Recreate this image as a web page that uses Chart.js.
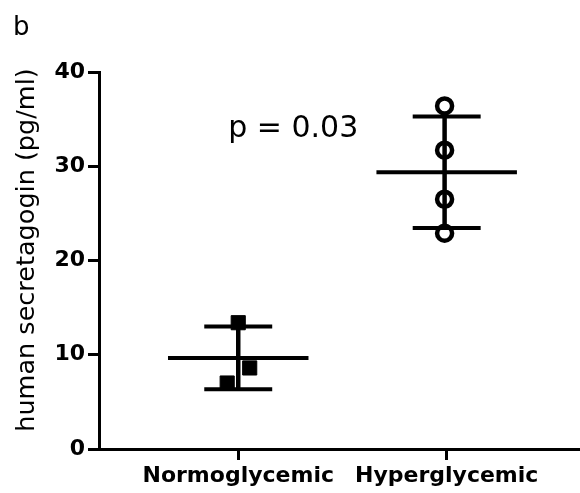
<!DOCTYPE html>
<html><head><meta charset="utf-8">
<script src="https://cdn.jsdelivr.net/npm/chart.js@4/dist/chart.umd.min.js"></script>
<style>html,body{margin:0;padding:0;background:#fff;overflow:hidden;}</style>
</head><body>
<canvas id="c" width="580" height="493"></canvas>
<script>
const categories = ['Normoglycemic', 'Hyperglycemic'];
const normoValues = [13.4, 8.6, 7.0];
const normoJitter = [0, 0.055, -0.053];
const hyperValues = [36.4, 31.7, 26.5, 22.9];
const hyperJitter = [-0.01, -0.01, -0.01, -0.01];
const yTicks = [0, 10, 20, 30, 40];
const yTitle = 'human secretagogin (pg/ml)';
const panelLabel = 'b';
const pValueText = 'p = 0.03';

const FONT = "'DejaVu Sans', sans-serif";
const BLACK = '#000';

function mean(a) { return a.reduce((s, v) => s + v, 0) / a.length; }
function sd(a) { const m = mean(a); return Math.sqrt(a.reduce((s, v) => s + (v - m) * (v - m), 0) / (a.length - 1)); }

const groups = [
  { values: normoValues, jitter: normoJitter, style: 'rect', radius: 10, fill: BLACK, bw: 1, center: 0 },
  { values: hyperValues, jitter: hyperJitter, style: 'circle', radius: 7.5, fill: 'rgba(0,0,0,0)', bw: 4.5, center: -0.01 }
];

const MEAN_HALF = 0.337, CAP_HALF = 0.163;
const datasets = [];
function lineDs(pts, w) {
  return { data: pts, showLine: true, pointRadius: 0, pointHoverRadius: 0, borderColor: BLACK, borderWidth: w, borderCapStyle: 'butt', clip: false, order: 2 };
}
groups.forEach((g, i) => {
  const x = i + 1;
  const xe = x + g.center;
  const m = mean(g.values), s = sd(g.values);
  datasets.push(lineDs([{ x: x - MEAN_HALF, y: m }, { x: x + MEAN_HALF, y: m }], 4));
  datasets.push(lineDs([{ x: xe, y: m - s }, { x: xe, y: m + s }], 4.5));
  datasets.push(lineDs([{ x: x - CAP_HALF, y: m + s }, { x: x + CAP_HALF, y: m + s }], 4));
  datasets.push(lineDs([{ x: x - CAP_HALF, y: m - s }, { x: x + CAP_HALF, y: m - s }], 4));
  datasets.push({
    data: g.values.map((v, k) => ({ x: x + g.jitter[k], y: v })),
    showLine: false,
    pointStyle: g.style, pointRadius: g.radius, pointHoverRadius: g.radius,
    pointBackgroundColor: g.fill, pointBorderColor: BLACK, pointBorderWidth: g.bw,
    clip: false, order: 1
  });
});

const textPlugin = {
  id: 'texts',
  afterDraw(chart) {
    const ctx = chart.ctx;
    const xs = chart.scales.x, ys = chart.scales.y;
    ctx.save();
    ctx.fillStyle = BLACK;
    ctx.textBaseline = 'alphabetic';
    ctx.textAlign = 'left';
    ctx.font = '26px ' + FONT;
    ctx.fillText(panelLabel, 13, 35);
    ctx.font = '30px ' + FONT;
    ctx.textAlign = 'center';
    ctx.fillText(pValueText, xs.getPixelForValue(1.264), ys.getPixelForValue(33.1));
    // y-axis title
    ctx.font = '25.5px ' + FONT;
    ctx.textBaseline = 'middle';
    ctx.translate(27, 250);
    ctx.rotate(-Math.PI / 2);
    ctx.fillText(yTitle, 0, 0);
    ctx.restore();
  }
};

new Chart(document.getElementById('c'), {
  type: 'scatter',
  data: { datasets },
  plugins: [textPlugin],
  options: {
    responsive: false,
    animation: false,
    devicePixelRatio: 1,
    layout: { autoPadding: false, padding: { top: 72, right: 2, left: 0, bottom: 0 } },
    plugins: { legend: { display: false }, tooltip: { enabled: false } },
    scales: {
      x: {
        type: 'linear', min: 0.332, max: 2.63,
        afterBuildTicks: (s) => { s.ticks = categories.map((c, i) => ({ value: i + 1 })); },
        afterFit: (s) => { s.height = 44; },
        grid: { drawOnChartArea: false, drawTicks: true, tickLength: 11, color: BLACK, lineWidth: 3 },
        border: { display: true, color: BLACK, width: 3 },
        ticks: {
          autoSkip: false, maxRotation: 0, color: BLACK, padding: 3,
          font: { family: FONT, size: 22, weight: 'bold' },
          callback: (v) => categories[Math.round(v) - 1] || ''
        }
      },
      y: {
        type: 'linear', min: 0, max: 40,
        afterBuildTicks: (s) => { s.ticks = yTicks.map(v => ({ value: v })); },
        afterFit: (s) => { s.width = 99; },
        grid: { drawOnChartArea: false, drawTicks: true, tickLength: 11, color: BLACK, lineWidth: 3 },
        border: { display: true, color: BLACK, width: 3 },
        ticks: { color: BLACK, padding: 3, font: { family: FONT, size: 22, weight: 'bold' } },
        title: { display: false, text: yTitle }
      }
    }
  }
});
</script>
</body></html>
